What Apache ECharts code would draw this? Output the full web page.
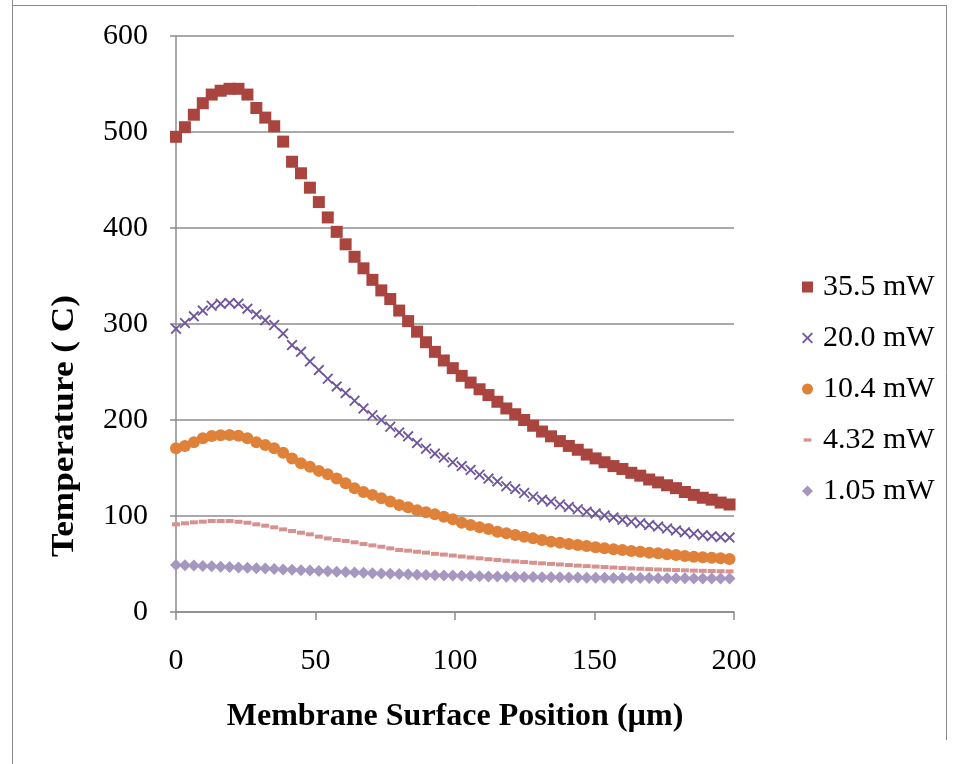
<!DOCTYPE html>
<html><head><meta charset="utf-8">
<script src="https://cdn.jsdelivr.net/npm/echarts@6/dist/echarts.min.js"></script>
<style>html,body{margin:0;padding:0;background:#fff}#c{width:956px;height:764px}</style>
</head><body><div id="c"></div>
<script>
// x positions (µm)
const positions = [0,3.2,6.4,9.6,12.8,16,19.2,22.4,25.6,28.8,32,35.2,38.4,41.6,44.8,48,51.2,54.4,57.6,60.8,64,67.2,70.4,73.6,76.8,80,83.2,86.4,89.6,92.8,96,99.2,102.4,105.6,108.8,112,115.2,118.4,121.6,124.8,128,131.2,134.4,137.6,140.8,144,147.2,150.4,153.6,156.8,160,163.2,166.4,169.6,172.8,176,179.2,182.4,185.6,188.8,192,195.2,198.4];
const seriesNames = ['35.5 mW','20.0 mW','10.4 mW','4.32 mW','1.05 mW'];
const temp35_5 = [495,505,518,530,539,543,545,545,539,525,515,506,490,469,457,442,427,411,396,383,370,358,346,335,326,
  314,303,292,281,271,262,254,246,239,232,226,219,212,206,200,194,188,183,178,173,169,164,160,156,152,149,145,142,138,135,132,129,125,122,119,117,114,112];
const temp20_0 = [295,301,308,314,319,321,322,321,316,310,304,299,290,278,271,261,252,243,235,228,220,212,205,200,193,187,183,176,170,165,
  161,156,152,148,143,139,136,131,128,124,120,117,115,112,109.5,107,104.5,102.5,100.5,98.5,96,94,92.5,90.5,89,87,85,83,81.5,80,79,78,77.5];
const temp10_4 = [170.5,173,176.7,181,183.3,184,184.4,183.7,181,176.7,174,170.5,166,160,155,151.4,147,143.5,139,134,
  129,125,122,118.5,115,111.5,109,106,104,101.7,
  99.3,96.5,93,90.6,88.2,86.5,83.7,82,80.2,78.5,76.7,75,73.3,72.2,70.8,69.8,68.7,67.4,66.3,65.3,64.6,63.5,62.8,61.8,61.1,60.1,59.4,58.3,57.6,57,56.6,55.9,55.2];
const temp4_32 = [91.3,92.4,93.4,94.1,94.8,94.8,94.8,94,93,91.3,89.9,88.2,86.1,84.4,82.6,80.9,78.5,76.7,75,74,72.6,70.8,69.4,68,66.3,64.6,63.9,62.8,61.8,60.6,
  59.8,58.8,57.8,56.8,55.9,55,54.2,53.4,52.7,52,51.3,50.7,50.1,49.5,48.9,48.3,47.8,47.3,46.8,46.3,45.8,45.4,45,44.6,44.3,44,43.7,43.4,43.1,42.9,42.7,42.5,42.3];
const temp1_05 = [49,48.8,48.4,48,47.6,47.2,46.8,46.4,46,45.6,45.2,44.8,44.4,44,43.6,43.2,42.8,42.4,42,41.6,41.2,40.8,40.4,40.1,39.8,39.5,39.2,38.9,38.6,38.3,
  38.1,37.9,37.7,37.5,37.3,37.1,36.9,36.8,36.6,36.5,36.4,36.3,36.2,36.1,36,35.9,35.8,35.7,35.6,35.5,35.4,35.4,35.3,35.3,35.2,35.2,35.1,35.1,35,35,35,34.9,34.9];
const xAxisTitle = 'Membrane Surface Position (µm)';
const yAxisTitle = 'Temperature ( C)';

const FONT = '"Liberation Serif","Times New Roman",serif';
const xPath = 'path://M0,1.2 L1.2,0 L5,3.8 L8.8,0 L10,1.2 L6.2,5 L10,8.8 L8.8,10 L5,6.2 L1.2,10 L0,8.8 L3.8,5 Z';
const dashPath = 'path://M0,0 M10,10 M1.5,3.5 L8.5,3.5 L8.5,6.5 L1.5,6.5 Z';
const styles = [
  {color:'#A9443F', symbol:'rect', size:12, icon:'rect'},
  {color:'#70569B', symbol:xPath, size:11, icon:xPath},
  {color:'#E0813A', symbol:'circle', size:12, icon:'circle'},
  {color:'#D7928F', symbol:'rect', size:[8,4], icon:dashPath},
  {color:'#A597BF', symbol:'diamond', size:12, icon:'diamond'}
];
const allData = [temp35_5, temp20_0, temp10_4, temp4_32, temp1_05];

const chart = echarts.init(document.getElementById('c'), null, {renderer:'canvas'});
const grey = '#8c8c8c';
chart.setOption({
  backgroundColor:'#fff',
  animation:false,
  grid:{left:176, right:222, top:36, bottom:152, containLabel:false},
  xAxis:{type:'value', min:0, max:200, interval:50,
    axisLine:{show:true, lineStyle:{color:grey, width:1.5}},
    axisTick:{show:true, length:8, lineStyle:{color:grey, width:1.5}},
    splitLine:{show:false},
    axisLabel:{fontFamily:FONT, fontSize:30, color:'#000', margin:34}},
  yAxis:{type:'value', min:0, max:600, interval:100,
    axisLine:{show:true, lineStyle:{color:grey, width:1.5}},
    axisTick:{show:true, length:6, lineStyle:{color:grey, width:1.5}},
    splitLine:{show:true, lineStyle:{color:grey, width:1.5}},
    axisLabel:{fontFamily:FONT, fontSize:30, color:'#000', margin:28}},
  legend:{orient:'vertical', left:797, top:267, itemWidth:11, itemHeight:11, itemGap:21,
    selectedMode:false,
    textStyle:{fontFamily:FONT, fontSize:30, color:'#000', lineHeight:30, padding:[0,0,0,5]},
    data: seriesNames.map((n,i)=>({name:n, icon:styles[i].icon}))},
  series: seriesNames.map((n,i)=>({
    name:n, type:'scatter',
    symbol:styles[i].symbol, symbolSize:styles[i].size,
    itemStyle:{color:styles[i].color, opacity:1},
    data: positions.map((x,j)=>[x, allData[i][j]])
  })),
  graphic:[
    {type:'line', shape:{x1:12.5,y1:0,x2:12.5,y2:764}, style:{stroke:'#8a8a8a', lineWidth:1}},
    {type:'line', shape:{x1:12,y1:5.5,x2:946.5,y2:5.5}, style:{stroke:'#8a8a8a', lineWidth:1}},
    {type:'line', shape:{x1:946.5,y1:5,x2:946.5,y2:740}, style:{stroke:'#8a8a8a', lineWidth:1}},
    {type:'text', x:455, y:717, style:{text:xAxisTitle, font:'bold 32px '+FONT, fill:'#000', textAlign:'center', textVerticalAlign:'middle'}},
    {type:'text', x:65, y:557, rotation:Math.PI/2, scaleX:1.1, style:{text:yAxisTitle, font:'bold 32px '+FONT, fill:'#000', textAlign:'left', textVerticalAlign:'middle'}}
  ]
});
</script></body></html>
